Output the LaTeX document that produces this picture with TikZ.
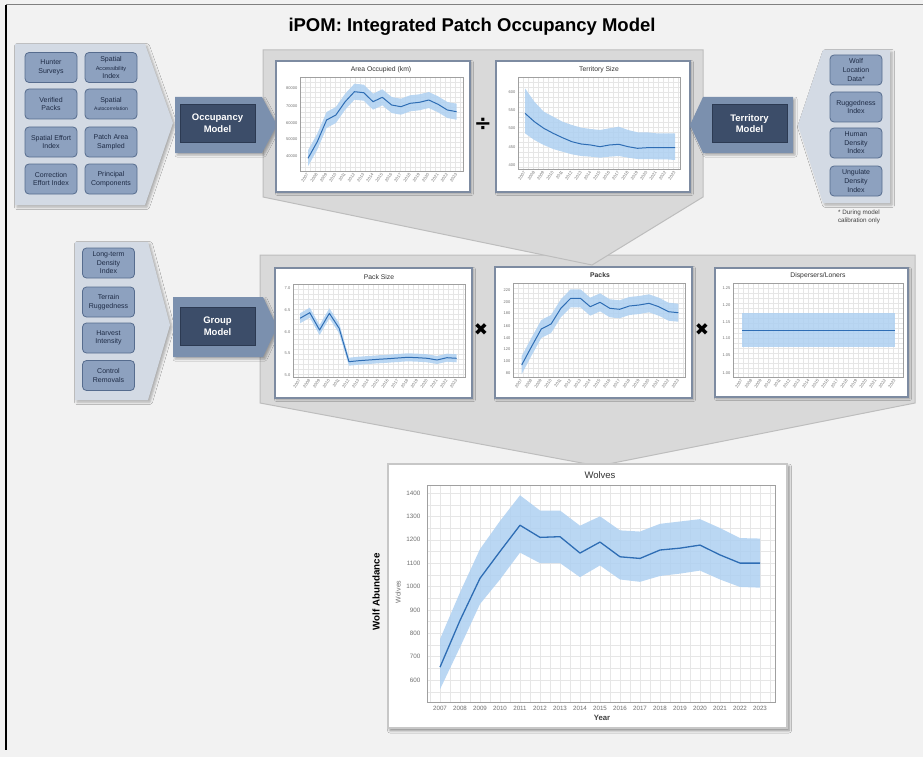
\documentclass[tikz,border=0pt]{standalone}
\usepackage{fontspec}
\setmainfont{Liberation Sans}
\newfontfamily\symfont{DejaVu Sans}
\usetikzlibrary{shadows.blur}

\definecolor{bg}{HTML}{F2F2F2}
\definecolor{panelgrey}{HTML}{D9D9D9}
\definecolor{panelline}{HTML}{BDBDBD}
\definecolor{inpanel}{HTML}{D3DAE4}
\definecolor{inbox}{HTML}{8DA1BF}
\definecolor{inboxline}{HTML}{566C8E}
\definecolor{intext}{HTML}{1E2B45}
\definecolor{modelout}{HTML}{7B90AE}
\definecolor{modelin}{HTML}{3C4D69}
\definecolor{modelinline}{HTML}{2C3A52}
\definecolor{cardline}{HTML}{7D8BA1}
\definecolor{bandblue}{HTML}{AED0F1}
\definecolor{lineblue}{HTML}{2E6DB4}
\definecolor{gridc}{HTML}{E6E6E6}
\definecolor{axisc}{HTML}{A0A0A0}
\definecolor{ticktext}{HTML}{707070}

% white chart card with its gridded plot area
% #1..#4 card box, #5..#8 plot box
\newcommand\minicard[8]{%
  \path[card] (#1,#2) rectangle (#3,#4);
  \begin{scope}
    \clip (#5,#6) rectangle (#7,#8);
    \foreach \k in {0,...,40}{
      \draw[gridline] ({#5+\k*5},#6) -- ({#5+\k*5},#8);
      \draw[gridline] (#5,{#6+\k*5}) -- (#7,{#6+\k*5});
    }
  \end{scope}
  \draw[axisc, line width=0.5pt] (#5,#6) rectangle (#7,#8);
}
% slanted year labels under a small chart: first x, step, y
\newcommand\yearticks[3]{%
  \foreach \k [evaluate=\k as \yr using int(2007+\k)] in {0,...,16}
    \node[yeartick] at ({#1+\k*#2},#3) {\yr};
}

\begin{document}
\begin{tikzpicture}[x=1pt,y=-1pt,
  panel/.style={fill=panelgrey, draw=panelline, line width=1pt},
  inpanelsty/.style={fill=inpanel, blur shadow={shadow xshift=2pt, shadow yshift=-2pt, shadow blur radius=2.5pt, shadow opacity=30}},
  inputbox/.style={draw=inboxline, line width=0.8pt, fill=inbox, rounded corners=4pt,
    minimum width=52pt, minimum height=30pt, inner sep=0.3pt, align=center,
    font=\fontsize{7}{8.6}\selectfont, text=intext},
  smalltext/.style={font=\fontsize{5.3}{8.6}\selectfont},
  modelshape/.style={fill=modelout, blur shadow={shadow xshift=2pt, shadow yshift=-2pt, shadow blur radius=2pt, shadow opacity=30}},
  modelbox/.style={fill=modelin, draw=modelinline, line width=0.8pt, minimum width=75pt, minimum height=38pt,
    align=center, text=white, font=\fontsize{9.5}{11.5}\selectfont\bfseries},
  card/.style={fill=white, draw=cardline, line width=2.2pt, blur shadow={shadow xshift=1.5pt, shadow yshift=-1.5pt, shadow blur radius=2pt, shadow opacity=30}},
  gridline/.style={gridc, line width=0.3pt},
  band/.style={fill=bandblue, fill opacity=0.85},
  dataline/.style={lineblue, line width=1pt, line join=round},
  charttitle/.style={font=\fontsize{6.8}{7}\selectfont, text=black!80},
  ylab/.style={anchor=east, font=\fontsize{4}{4.5}\selectfont, text=ticktext, inner sep=0.5pt},
  yeartick/.style={rotate=55, anchor=east, font=\fontsize{4.2}{4.2}\selectfont, text=ticktext, inner sep=0.5pt},
  opsign/.style={font=\symfont\bfseries\fontsize{21}{21}\selectfont, text=black},
  timessign/.style={font=\symfont\fontsize{17}{17}\selectfont, text=black}
]
\fill[bg] (0,0) rectangle (923,757);
\useasboundingbox (0,0) rectangle (923,757);

% outer frame
\draw[gray, line width=1pt] (6,5) -- (923,5);
\draw[black, line width=1.2pt] (6,5) -- (6,750);

% heading
\node[font=\fontsize{18.5}{20}\selectfont\bfseries] (title) at (472,27) {iPOM: Integrated Patch Occupancy Model};

% grey panels with their funnels
\path[panel] (260,255) -- (915,255) -- (915,403) -- (598,466) -- (260,403) -- cycle;
\path[panel] (263,50) -- (703,50) -- (703,197) -- (592,265) -- (263,197) -- cycle;

% ---------- occupancy inputs ----------
\path[inpanelsty] (15,44) -- (145,44) -- (173,123) -- (145,205) -- (15,205) -- cycle;
\node[inputbox] (a1) at (51,67.5)  {Hunter\\Surveys};
\node[inputbox] (a2) at (111,67.5) {Spatial\\{\fontsize{5.6}{8.6}\selectfont Accessibility}\\Index};
\node[inputbox] (a3) at (51,104)   {Verified\\Packs};
\node[inputbox] (a4) at (111,104)  {Spatial\\{\fontsize{5}{8.6}\selectfont Autocorrelation}};
\node[inputbox] (a5) at (51,142)   {Spatial Effort\\Index};
\node[inputbox] (a6) at (111,142)  {Patch Area\\Sampled};
\node[inputbox] (a7) at (51,179)   {Correction\\Effort Index};
\node[inputbox] (a8) at (111,179)  {Principal\\Components};

\path[modelshape] (175,97) -- (262,97) -- (277,125) -- (262,153) -- (175,153) -- cycle;
\node[modelbox] (occ) at (217.5,123) {Occupancy\\Model};

% ---------- territory inputs ----------
\path[inpanelsty] (890,50) -- (823,50) -- (798,125) -- (823,203) -- (890,203) -- cycle;
\node[inputbox] (t1) at (856,70)  {Wolf\\Location\\Data*};
\node[inputbox] (t2) at (856,107) {Ruggedness\\Index};
\node[inputbox] (t3) at (856,143) {Human\\Density\\Index};
\node[inputbox] (t4) at (856,181) {Ungulate\\Density\\Index};
\node[font=\fontsize{6.3}{7.3}\selectfont, text=black!75, align=center] (foot) at (859,217) {* During model\\calibration only};

% ---------- group inputs ----------
\path[inpanelsty] (75,242) -- (148,242) -- (170,325) -- (148,400) -- (75,400) -- cycle;
\node[inputbox] (g1) at (108.5,263)   {Long-term\\Density\\Index};
\node[inputbox] (g2) at (108.5,302)   {Terrain\\Ruggedness};
\node[inputbox] (g3) at (108.5,338)   {Harvest\\Intensity};
\node[inputbox] (g4) at (108.5,375.5) {Control\\Removals};

\path[modelshape] (173,297) -- (263,297) -- (277,327) -- (263,357) -- (173,357) -- cycle;
\node[modelbox] (grp) at (217.5,326) {Group\\Model};

% ---------- Area Occupied ----------
\minicard{276}{61}{470}{192}{300}{77}{463}{171}
\node[charttitle] (tA) at (381,70) {Area Occupied (km)};
\foreach \yy/\lab in {88/80000,106/70000,123/60000,139/50000,156/40000}
  \node[ylab] at (298,\yy) {\lab};
\begin{scope}[shift={(308,0)}, x=9.29pt]
  \fill[band] plot coordinates {(0,150.3) (1,133.7) (2,112) (3,107) (4,93.7) (5,83.7) (6,84.7) (7,93.7) (8,89.3) (9,97) (10,98.7) (11,95.3) (12,94.3) (13,92) (14,96.3) (15,102) (16,103.7)}
    -- plot coordinates {(16,119.7) (15,118) (14,112.3) (13,108) (12,110.3) (11,111.3) (10,114.7) (9,113) (8,105.3) (7,109.7) (6,100.7) (5,99.7) (4,109.7) (3,123) (2,128) (1,149.7) (0,166.3)} -- cycle;
  \draw[dataline] plot coordinates {(0,158.3) (1,141.7) (2,120) (3,115) (4,101.7) (5,91.7) (6,92.7) (7,101.7) (8,97.3) (9,105) (10,106.7) (11,103.3) (12,102.3) (13,100) (14,104.3) (15,110) (16,111.7)};
\end{scope}
\yearticks{308}{9.29}{173}

\node[opsign] (divide) at (483,124) {÷};

% ---------- Territory Size ----------
\minicard{496}{61}{690}{192}{518}{77}{680}{169}
\node[charttitle] (tT) at (599,70) {Territory Size};
\foreach \yy/\lab in {92/600,110/550,128/500,147/450,165/400}
  \node[ylab] at (516,\yy) {\lab};
\begin{scope}[shift={(525,0)}, x=9.375pt]
  \fill[band] plot coordinates {(0,88.3) (1,101.7) (2,111.7) (3,116.7) (4,121.7) (5,125) (6,127.7) (7,129) (8,130) (9,128.3) (10,126.7) (11,130) (12,132.3) (13,132.3) (14,133.3) (15,133.3) (16,133.3)}
    -- plot coordinates {(16,160) (15,159.3) (14,159.3) (13,159) (12,159) (11,157.7) (10,156) (9,156.7) (8,157.7) (7,156.7) (6,156) (5,154.3) (4,151.7) (3,149) (2,145) (1,140) (0,133.3)} -- cycle;
  \draw[dataline] plot coordinates {(0,113.3) (1,121.7) (2,128.3) (3,133.3) (4,137.7) (5,141.7) (6,144) (7,145) (8,146.7) (9,145) (10,144.3) (11,146.7) (12,148.3) (13,147.7) (14,147.7) (15,147.7) (16,147.7)};
\end{scope}
\yearticks{525}{9.375}{171}

% ---------- territory model ----------
\path[modelshape] (793,97) -- (703,97) -- (690,125) -- (703,153) -- (793,153) -- cycle;
\node[modelbox] (terr) at (749.5,123.5) {Territory\\Model};

% ---------- Pack Size ----------
\minicard{275}{268}{472}{398}{293}{284}{465}{377}
\node[charttitle] (tPS) at (379,277) {Pack Size};
\foreach \yy/\lab in {288/7.0,310/6.5,332/6.0,353/5.5,375/5.0}
  \node[ylab] at (291,\yy) {\lab};
\begin{scope}[shift={(300,0)}, x=9.79pt]
  \fill[band] plot coordinates {(0,313.3) (1,307.7) (2,325) (3,308.3) (4,323.3) (5,357.7) (6,356.7) (7,356) (8,355.3) (9,354.7) (10,354) (11,353.3) (12,353.7) (13,354.3) (14,356) (15,353.7) (16,354.3)}
    -- plot coordinates {(16,362.3) (15,361.7) (14,364) (13,362.3) (12,361.7) (11,361.3) (10,362) (9,362.7) (8,363.3) (7,364) (6,364.7) (5,365.7) (4,333.3) (3,318.3) (2,335) (1,317.7) (0,323.3)} -- cycle;
  \draw[dataline] plot coordinates {(0,318.3) (1,312.7) (2,330) (3,313.3) (4,328.3) (5,361.7) (6,360.7) (7,360) (8,359.3) (9,358.7) (10,358) (11,357.3) (12,357.7) (13,358.3) (14,360) (15,357.7) (16,358.3)};
\end{scope}
\yearticks{300}{9.79}{379}

\node[timessign] (times1) at (481,330) {✖};

% ---------- Packs ----------
\minicard{495}{267}{692}{398}{513}{283}{685}{377}
\node[charttitle, font=\fontsize{6.8}{7}\selectfont\bfseries] (tPK) at (600,275) {Packs};
\foreach \yy/\lab in {290/220,302/200,313/180,326/160,338/140,349/120,361/100,373/80}
  \node[ylab] at (511,\yy) {\lab};
\begin{scope}[shift={(521.7,0)}, x=9.79pt]
  \fill[band] plot coordinates {(0,356) (1,337.7) (2,320) (3,315) (4,299.3) (5,289.3) (6,289.3) (7,297.7) (8,293.3) (9,299.3) (10,300.3) (11,297) (12,296) (13,294.3) (14,297.7) (15,302.7) (16,303.7)}
    -- plot coordinates {(16,321.7) (15,320.7) (14,315.7) (13,312.3) (12,314) (11,315) (10,318.3) (9,317.3) (8,311.3) (7,315.7) (6,307.3) (5,307.3) (4,317.3) (3,333) (2,338) (1,355.7) (0,374)} -- cycle;
  \draw[dataline] plot coordinates {(0,365) (1,346.7) (2,329) (3,324) (4,308.3) (5,298.3) (6,298.3) (7,306.7) (8,302.3) (9,308.3) (10,309.3) (11,306) (12,305) (13,303.3) (14,306.7) (15,311.7) (16,312.7)};
\end{scope}
\yearticks{521.7}{9.79}{379}

\node[timessign] (times2) at (702,330) {✖};

% ---------- Dispersers/Loners ----------
\minicard{715}{268}{908}{397}{733}{283}{903}{377}
\node[charttitle] (tDL) at (818,276) {Dispersers/Loners};
\foreach \yy/\lab in {288/1.25,305/1.20,322/1.15,338/1.10,355/1.05,373/1.00}
  \node[ylab] at (731,\yy) {\lab};
\fill[band] (742,313) rectangle (895,347);
\draw[dataline] (742,330) -- (895,330);
\yearticks{742}{9.5625}{379}

% ---------- Wolves ----------
\path[fill=white, draw=black!22, line width=2.2pt, blur shadow={shadow xshift=2pt, shadow yshift=-2.5pt, shadow blur radius=2.5pt, shadow opacity=45}] (388,464) rectangle (787,728);
\begin{scope}
  \clip (427,485) rectangle (775,702);
  \foreach \k in {0,...,34}
    \draw[gridline] ({430+\k*10},485) -- ({430+\k*10},702);
  \foreach \k in {0,...,20}
    \draw[gridline] (427,{680-(500+\k*50-600)*0.2338}) -- (775,{680-(500+\k*50-600)*0.2338});
\end{scope}
\draw[axisc, line width=0.7pt] (427,485) rectangle (775,702);
\node[font=\fontsize{9.5}{10}\selectfont, text=black!80] (tW) at (600,475) {Wolves};
\foreach \v in {600,700,...,1400}
  \node[anchor=east, font=\fontsize{6.3}{7}\selectfont, text=ticktext, inner sep=0.5pt] at (421,{680-(\v-600)*0.2338}) {\v};
\foreach \k [evaluate=\k as \yr using int(2007+\k)] in {0,...,16}
  \node[font=\fontsize{6.2}{7}\selectfont, text=ticktext, inner sep=0.5pt] at ({440+\k*20},708) {\yr};
\node[font=\fontsize{7.7}{8}\selectfont\bfseries, text=black!75] (year) at (602,718) {Year};
\node[rotate=90, font=\fontsize{7}{8}\selectfont, text=ticktext] (wy) at (398,592) {Wolves};
\node[rotate=90, font=\fontsize{9.8}{11}\selectfont\bfseries] (wab) at (376,592) {Wolf Abundance};
\begin{scope}[shift={(440,680)}, x=20pt, y=0.2338pt]
  \fill[band] plot coordinates {(0,175) (1,375) (2,560) (3,680) (4,790) (5,725) (6,725) (7,660) (8,700) (9,640) (10,635) (11,668) (12,678) (13,688) (14,650) (15,607) (16,605)}
    -- plot coordinates {(16,395) (15,398) (14,430) (13,468) (12,455) (11,445) (10,420) (9,430) (8,490) (7,440) (6,500) (5,500) (4,545) (3,430) (2,325) (1,140) (0,-40)} -- cycle;
  \draw[dataline, line width=1.3pt] plot coordinates {(0,55) (1,255) (2,435) (3,550) (4,662) (5,610) (6,613) (7,543) (8,590) (9,527) (10,520) (11,556) (12,564) (13,577) (14,535) (15,500) (16,500)};
\end{scope}
\end{tikzpicture}
\end{document}
